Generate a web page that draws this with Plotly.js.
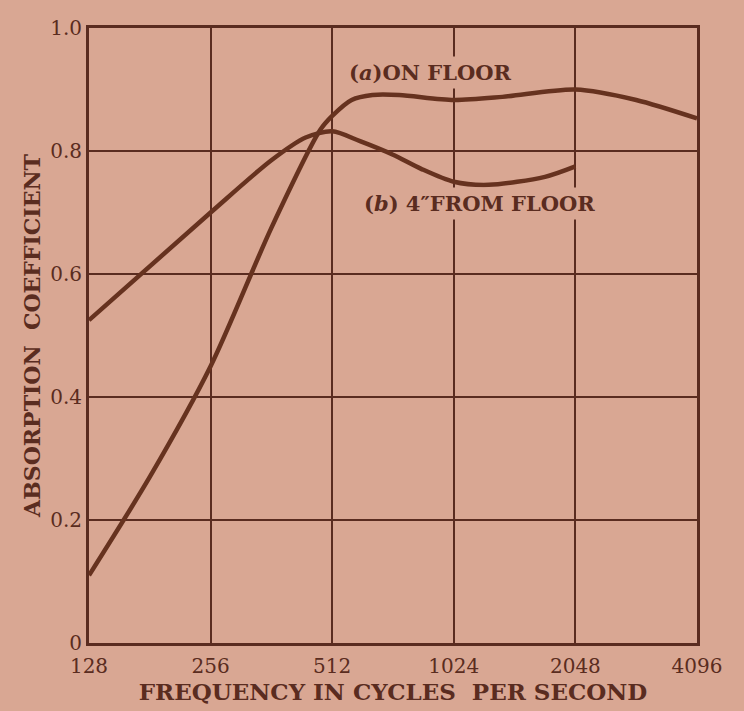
<!DOCTYPE html>
<html>
<head>
<meta charset="utf-8">
<script src="https://cdn.plot.ly/plotly-3.0.1.min.js"></script>
<style>
  html, body { margin: 0; padding: 0; background: #d9a793; }
  #chart { width: 744px; height: 711px; }
</style>
</head>
<body>
<div id="chart"></div>
<script>
// (a) On floor — frequency (cycles per second) and absorption coefficient
const freqA = [128, 181, 256, 362, 478, 512, 572, 644, 750, 1024, 1351, 2048, 2896, 4096];
const onFloor = [0.11, 0.27, 0.45, 0.675, 0.834, 0.857, 0.883, 0.891, 0.891, 0.883, 0.888, 0.90, 0.883, 0.853];

// (b) 4" from floor
const freqB = [128, 256, 362, 440, 512, 600, 724, 850, 1024, 1250, 1722, 2048];
const fromFloor = [0.525, 0.70, 0.785, 0.822, 0.832, 0.816, 0.794, 0.771, 0.75, 0.745, 0.758, 0.775];

const xTickVals = [128, 256, 512, 1024, 2048, 4096];
const xTickText = ['128', '256', '512', '1024', '2048', '4096'];
const yTickVals = [0, 0.2, 0.4, 0.6, 0.8, 1.0];
const yTickText = ['0', '0.2', '0.4', '0.6', '0.8', '1.0'];

const labelA = '<b>(<i>a</i>)ON FLOOR</b>';
const labelB = '<b>(<i>b</i>) 4\u2033FROM FLOOR</b>';
const xTitle = '<b>FREQUENCY IN CYCLES  PER SECOND</b>';
const yTitle = '<b>ABSORPTION  COEFFICIENT</b>';

const ink = '#5a2c20';
const lineInk = '#66321f';
const paper = '#d9a793';
const font = 'DejaVu Serif';

const traces = [
  { x: freqA, y: onFloor, mode: 'lines', line: { color: lineInk, width: 4.5, shape: 'spline', smoothing: 0.8 }, hoverinfo: 'skip' },
  { x: freqB, y: fromFloor, mode: 'lines', line: { color: lineInk, width: 4.5, shape: 'spline', smoothing: 0.8 }, hoverinfo: 'skip' }
];

const layout = {
  width: 744, height: 711,
  paper_bgcolor: paper, plot_bgcolor: paper,
  showlegend: false,
  margin: { l: 89, r: 47, t: 28, b: 68 },
  font: { family: font, color: ink },
  xaxis: {
    type: 'log',
    range: [Math.log10(128), Math.log10(4096)],
    tickmode: 'array', tickvals: xTickVals, ticktext: xTickText,
    showgrid: true, gridcolor: ink, gridwidth: 2,
    showline: true, linecolor: ink, linewidth: 3, mirror: true,
    zeroline: false, ticks: '', ticklabelstandoff: 3,
    tickfont: { family: font, size: 20, color: ink },
    title: { text: xTitle, font: { family: font, size: 23, color: ink }, standoff: 2 },
    automargin: false, fixedrange: true
  },
  yaxis: {
    range: [0, 1],
    tickmode: 'array', tickvals: yTickVals, ticktext: yTickText,
    showgrid: true, gridcolor: ink, gridwidth: 2,
    showline: true, linecolor: ink, linewidth: 3, mirror: true,
    zeroline: false, ticks: '',
    tickfont: { family: font, size: 20, color: ink },
    title: { text: yTitle, font: { family: font, size: 22, color: ink }, standoff: 4 },
    automargin: false, fixedrange: true
  },
  annotations: [
    { text: labelA, xref: 'paper', yref: 'paper', x: 0.561, y: 0.928, xanchor: 'center', yanchor: 'middle',
      showarrow: false, font: { family: font, size: 21, color: ink }, bgcolor: paper, borderpad: 3 },
    { text: labelB, xref: 'paper', yref: 'paper', x: 0.643, y: 0.714, xanchor: 'center', yanchor: 'middle',
      showarrow: false, font: { family: font, size: 21, color: ink }, bgcolor: paper, borderpad: 3 }
  ]
};

Plotly.newPlot('chart', traces, layout, { displayModeBar: false, staticPlot: true });
</script>
</body>
</html>
